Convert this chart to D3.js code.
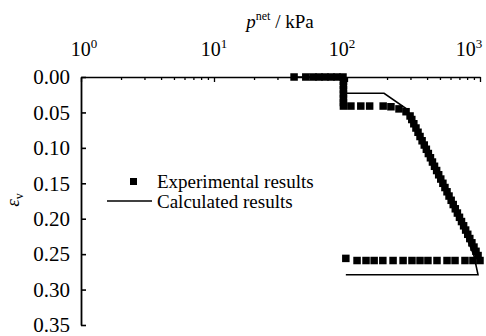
<!DOCTYPE html>
<html>
<head>
<meta charset="utf-8">
<script src="https://cdn.jsdelivr.net/npm/d3@7"></script>
<style>
  html, body { margin: 0; padding: 0; background: #fff; }
  svg { display: block; }
  svg text { font-family: "Liberation Serif", "Times New Roman", serif; fill: #000; }
</style>
</head>
<body>
<svg id="chart" width="486" height="336"></svg>
<script>
// experimental results (net stress in kPa, volumetric strain)
const expP = [40, 49, 55.5, 61.6, 68.3, 75.8, 84.1, 93.3,
  94, 94, 94, 94, 94, 94, 94,
  107, 127, 148, 187, 214, 246, 278,
  298, 307, 318, 330, 342, 354, 367, 381, 395, 409, 424, 439, 455, 472, 489, 507, 526, 545,
  565, 585, 607, 629, 652, 676, 701, 726, 753, 780, 809, 838, 869, 901, 933, 967, 1000,
  885, 771, 649, 565, 475, 406, 354, 308, 264, 222, 186, 160, 139, 119, 98];
const expE = [0, 0, 0, 0, 0, 0, 0, 0,
  0.006, 0.012, 0.018, 0.024, 0.030, 0.036, 0.041,
  0.041, 0.041, 0.041, 0.041, 0.042, 0.045, 0.049,
  0.055, 0.060, 0.066, 0.072, 0.078, 0.084, 0.090, 0.096, 0.102, 0.108, 0.114, 0.120, 0.126, 0.132, 0.138, 0.144, 0.150, 0.156,
  0.162, 0.168, 0.174, 0.180, 0.186, 0.192, 0.198, 0.204, 0.210, 0.216, 0.222, 0.228, 0.234, 0.240, 0.246, 0.252, 0.259,
  0.259, 0.259, 0.259, 0.259, 0.259, 0.259, 0.259, 0.259, 0.259, 0.259, 0.259, 0.259, 0.259, 0.259, 0.256];

// calculated results
const calcP = [40, 97, 97, 190, 280, 600, 900, 966, 98];
const calcE = [0, 0, 0.023, 0.023, 0.045, 0.170, 0.252, 0.279, 0.279];

const xMajor = [1, 10, 100, 1000];
const xMajorExp = ['0', '1', '2', '3'];
const yTicks = [0, 0.05, 0.10, 0.15, 0.20, 0.25, 0.30, 0.35];
const legendLabels = ['Experimental results', 'Calculated results'];

(function () {
  const svg = d3.select('#chart');

  const x = d3.scaleLog().domain([1, 1000]).range([81, 480]);
  const y = d3.scaleLinear().domain([0, 0.35]).range([77, 325]);

  const minor = [];
  [1, 10, 100].forEach(function (d) {
    for (let k = 2; k <= 9; k++) minor.push(d * k);
  });

  // top axis, ticks pointing into the plot
  svg.append('g')
    .attr('transform', 'translate(0,' + y(0) + ')')
    .call(d3.axisTop(x).tickValues(minor).tickSize(-3).tickSizeOuter(0).tickFormat(''))
    .call(function (g) { g.select('.domain').remove(); });

  const topAxis = svg.append('g')
    .attr('transform', 'translate(0,' + y(0) + ')')
    .call(d3.axisTop(x).tickValues(xMajor).tickSize(-5).tickSizeOuter(0).tickFormat(''));

  svg.selectAll('g.tick line').attr('stroke', '#000').attr('stroke-width', 1.3);
  topAxis.select('.domain').attr('stroke', '#000').attr('stroke-width', 1.6);

  // labels drift a little left of their ticks in the original
  const labelShift = [3, 0, -5, -11];
  const xl = svg.append('g').selectAll('text')
    .data(xMajor)
    .enter()
    .append('text')
    .attr('x', function (d, i) { return x(d) + labelShift[i]; })
    .attr('y', 56)
    .attr('text-anchor', 'middle')
    .style('font-size', '20px');
  xl.append('tspan').text('10');
  xl.append('tspan')
    .style('font-size', '13px')
    .attr('dy', -8)
    .text(function (d, i) { return xMajorExp[i]; });

  // left axis
  const leftAxis = svg.append('g')
    .attr('transform', 'translate(' + x(1) + ',0)')
    .call(d3.axisLeft(y).tickValues(yTicks).tickSize(-5).tickSizeOuter(0).tickPadding(11)
      .tickFormat(d3.format('.2f')));
  leftAxis.select('.domain').attr('stroke', '#000').attr('stroke-width', 1.8);
  leftAxis.selectAll('line').attr('stroke', '#000').attr('stroke-width', 1.6);
  leftAxis.selectAll('text')
    .style('font-family', '"Liberation Serif", serif')
    .style('font-size', '21px');

  // axis titles
  const title = svg.append('text')
    .attr('x', 280)
    .attr('y', 28)
    .attr('text-anchor', 'middle')
    .style('font-size', '19px');
  title.append('tspan').style('font-style', 'italic').text('p');
  title.append('tspan').style('font-size', '12px').attr('dy', -8).text('net');
  title.append('tspan').attr('dy', 8).text(' / kPa');

  const yTitle = svg.append('text')
    .attr('transform', 'translate(19,200) rotate(-90)')
    .attr('text-anchor', 'middle')
    .style('font-size', '19px');
  yTitle.append('tspan').style('font-style', 'italic').text('ε');
  yTitle.append('tspan').style('font-size', '12px').attr('dy', 4).text('v');

  // calculated line
  const calc = calcP.map(function (p, i) { return [p, calcE[i]]; });
  svg.append('path')
    .datum(calc)
    .attr('fill', 'none')
    .attr('stroke', '#000')
    .attr('stroke-width', 1.6)
    .attr('d', d3.line()
      .x(function (d) { return x(d[0]); })
      .y(function (d) { return y(d[1]); }));

  // experimental squares
  const size = 7.5;
  svg.append('g').selectAll('rect')
    .data(expP)
    .enter()
    .append('rect')
    .attr('x', function (d) { return x(d) - size / 2; })
    .attr('y', function (d, i) { return y(expE[i]) - size / 2; })
    .attr('width', size)
    .attr('height', size)
    .attr('fill', '#000');

  // legend
  const leg = svg.append('g');
  leg.append('rect')
    .attr('x', 130).attr('y', 178)
    .attr('width', 7).attr('height', 7)
    .attr('fill', '#000');
  leg.append('line')
    .attr('x1', 107).attr('x2', 152)
    .attr('y1', 201).attr('y2', 201)
    .attr('stroke', '#000')
    .attr('stroke-width', 1.6);
  leg.selectAll('text')
    .data(legendLabels)
    .enter()
    .append('text')
    .attr('x', 157)
    .attr('y', function (d, i) { return 181 + i * 20; })
    .attr('dy', '0.35em')
    .style('font-size', '19px')
    .text(function (d) { return d; });
})();
</script>
</body>
</html>
